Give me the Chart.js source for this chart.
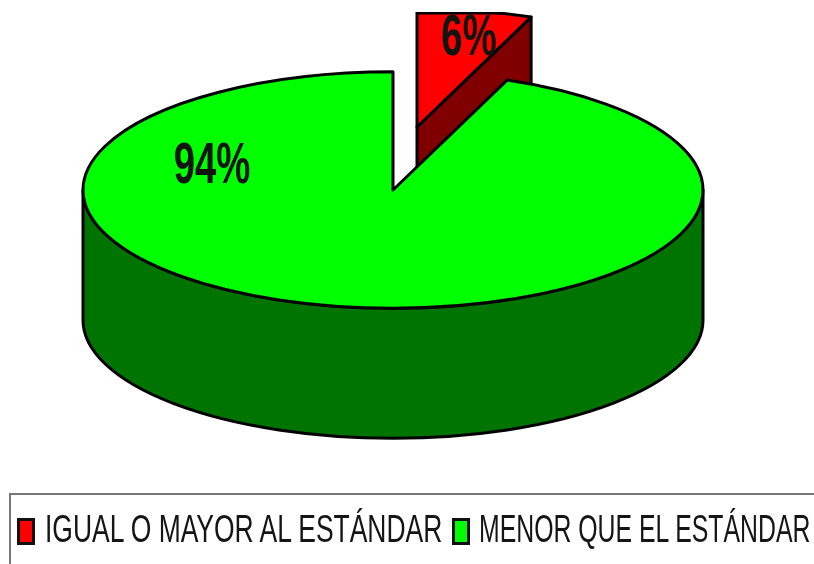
<!DOCTYPE html>
<html>
<head>
<meta charset="utf-8">
<script src="https://cdn.jsdelivr.net/npm/chart.js@4/dist/chart.umd.min.js"></script>
<style>
    html, body { margin: 0; background: #fff; overflow: hidden; }
    #wrap { position: relative; width: 814px; height: 564px; overflow: hidden; }
    #chart { position: absolute; left: 0; top: 0; }
    #legend {
        position: absolute; left: 9px; top: 493px; width: 900px; height: 200px;
        border: 2px solid #777; box-sizing: border-box;
    }
    .swatch {
        position: absolute; top: 23px; width: 18px; height: 27px;
        border: 3px solid #111; box-sizing: border-box;
    }
    .item {
        position: absolute; top: 8px; white-space: pre; transform-origin: left top;
        font: 38px/52px "Liberation Sans", Arial, sans-serif; color: #151515;
    }
</style>
</head>
<body>
<div id="wrap">
    <canvas id="chart" width="814" height="564"></canvas>
    <div id="legend"></div>
</div>
<script>
const categories = ['IGUAL O MAYOR AL ESTÁNDAR', 'MENOR QUE EL ESTÁNDAR'];
const values = [6, 94];
const topColors = ['#ff0000', '#00ff00'];
const sideColors = ['#800000', '#007400'];

// pie3d: lets PieController work out the angles, then paints them as a tilted extruded pie
class Pie3DController extends Chart.PieController {
    draw() {
        const ctx = this.chart.ctx;
        const area = this.chart.chartArea;
        const dataset = this.getDataset();
        const { tilt, depth, lineWidth } = dataset.extrude;

        this.getMeta().data.forEach((arc, i) => {
            const rx = area.width / 2;
            const ry = arc.outerRadius * tilt;
            const cx = arc.x + dataset.shift[i].x;
            const cy = arc.y + dataset.shift[i].y;
            const start = arc.startAngle;
            const end = arc.endAngle;

            const face = () => {
                ctx.beginPath();
                ctx.moveTo(cx, cy);
                ctx.ellipse(cx, cy, rx, ry, 0, start, end);
                ctx.closePath();
            };
            const paint = fill => {
                ctx.fillStyle = fill;
                ctx.fill();
                ctx.stroke();
            };

            ctx.save();
            ctx.lineWidth = lineWidth;
            ctx.lineJoin = 'round';
            ctx.strokeStyle = '#000';

            // a shifted slice gets cut off at the top of the chart area
            const shifted = dataset.shift[i].y !== 0;
            if (shifted) {
                ctx.beginPath();
                ctx.rect(0, area.top, this.chart.width, this.chart.height);
                ctx.clip();
            }

            // cut wall along the trailing radius, only when it faces the viewer
            if (Math.cos(end) > 0.01) {
                ctx.beginPath();
                ctx.moveTo(cx, cy);
                ctx.lineTo(cx + rx * Math.cos(end), cy + ry * Math.sin(end));
                ctx.lineTo(cx + rx * Math.cos(end), cy + ry * Math.sin(end) + depth);
                ctx.lineTo(cx, cy + depth);
                ctx.closePath();
                paint(dataset.sideColor[i]);
            }

            // outer wall, front half of the rim
            const from = Math.max(start, 0);
            const to = Math.min(end, Math.PI);
            if (from < to) {
                ctx.beginPath();
                ctx.ellipse(cx, cy, rx, ry, 0, from, to);
                ctx.ellipse(cx, cy + depth, rx, ry, 0, to, from, true);
                ctx.closePath();
                paint(dataset.sideColor[i]);
            }

            face();
            paint(arc.options.backgroundColor);

            if (shifted) {
                face();
                ctx.clip();
                ctx.beginPath();
                ctx.moveTo(0, area.top + 1);
                ctx.lineTo(this.chart.width, area.top + 1);
                ctx.stroke();
            }
            ctx.restore();
        });

        // percentage labels, squeezed horizontally
        ctx.save();
        ctx.fillStyle = '#101510';
        ctx.font = dataset.valueLabels.font;
        ctx.textAlign = 'center';
        ctx.textBaseline = 'middle';
        dataset.valueLabels.at.forEach((pos, i) => {
            ctx.save();
            ctx.translate(pos.x, pos.y);
            ctx.scale(dataset.valueLabels.squeeze, 1);
            ctx.fillText(`${dataset.data[i]}%`, 0, 0);
            ctx.restore();
        });
        ctx.restore();
    }
}
Pie3DController.id = 'pie3d';
Chart.register(Pie3DController);

const chart = new Chart(document.getElementById('chart'), {
    type: 'pie3d',
    data: {
        labels: categories,
        datasets: [{
            data: values,
            backgroundColor: topColors,
            sideColor: sideColors,
            shift: [{ x: 24, y: -63 }, { x: 0, y: 0 }],
            extrude: { tilt: 0.668, depth: 130, lineWidth: 3 },
            valueLabels: {
                font: 'bold 58px "Liberation Sans"',
                squeeze: 0.66,
                at: [{ x: 469, y: 39 }, { x: 212, y: 167 }]
            },
            clip: false
        }]
    },
    options: {
        responsive: false,
        animation: false,
        layout: { padding: { left: 83, right: 111, top: 12, bottom: 196 } },
        plugins: { legend: { display: false }, tooltip: { enabled: false } }
    }
});

// legend box under the pie, one swatch and squeezed label per category
const legendBox = document.getElementById('legend');
const swatchLeft = [6, 441];
const labelLeft = [34, 468];
const labelSqueeze = [0.696, 0.653];
chart.data.labels.forEach((label, i) => {
    const swatch = document.createElement('div');
    swatch.className = 'swatch';
    swatch.style.left = swatchLeft[i] + 'px';
    swatch.style.background = topColors[i];
    legendBox.appendChild(swatch);

    const text = document.createElement('div');
    text.className = 'item';
    text.style.left = labelLeft[i] + 'px';
    text.style.transform = `scaleX(${labelSqueeze[i]})`;
    text.textContent = label;
    legendBox.appendChild(text);
});
</script>
</body>
</html>
